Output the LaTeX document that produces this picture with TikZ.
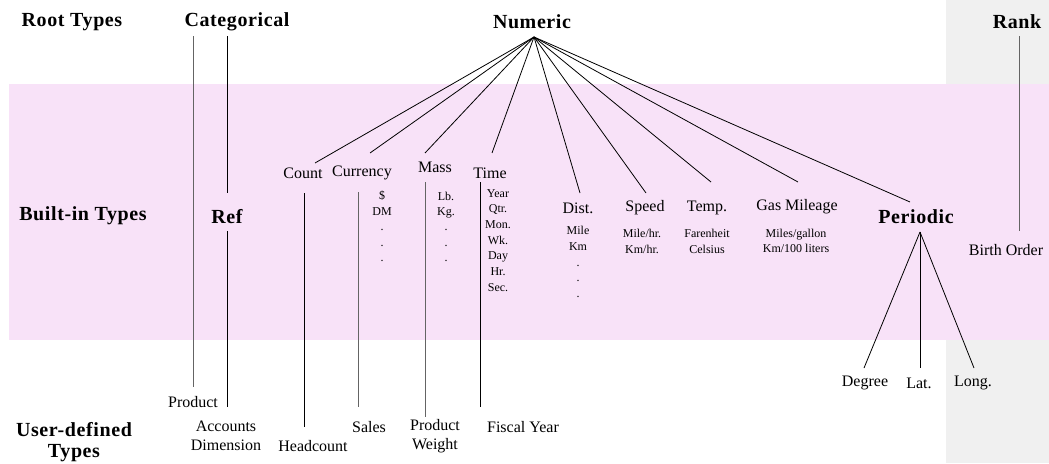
\documentclass[tikz,border=0pt]{standalone}
\usepackage{fontspec}
\setmainfont{LiberationSerif}[Extension=.ttf, UprightFont=*-Regular, BoldFont=*-Bold, ItalicFont=*-Italic, BoldItalicFont=*-BoldItalic]
\definecolor{bandpink}{RGB}{248,226,248}
\definecolor{rankgray}{RGB}{240,240,240}
\definecolor{linegray}{RGB}{100,100,100}

\begin{document}
\begin{tikzpicture}[x=1pt,y=-1pt,
  rootlbl/.style={font=\fontsize{20}{21}\selectfont\bfseries\addfontfeature{LetterSpace=3}, inner sep=0pt, align=center},
  typelbl/.style={font=\fontsize{16}{19}\selectfont, inner sep=0pt, align=center},
  unitlbl/.style={font=\fontsize{12}{14}\selectfont, inner sep=0pt, anchor=base},
  link/.style={draw=black, line width=0.8pt},
  glink/.style={draw=linegray, line width=1pt}]

\useasboundingbox (0,0) rectangle (1049,463);

% background bands
\fill[rankgray] (946,0) rectangle (1049,463);
\fill[bandpink] (9,84) rectangle (1049,340);

% row headings
\node[rootlbl] (hroot) at (72,22) {Root Types};
\node[rootlbl] (hbuilt) at (83,216) {Built-in Types};
\node[rootlbl] (huser) at (74,442) {User-defined\\Types};

% root types
\node[rootlbl] (categorical) at (237,22) {Categorical};
\node[rootlbl] (numeric) at (532,22) {Numeric};
\node[rootlbl] (rank) at (1017,22) {Rank};

% built-in types
\node[rootlbl] (ref) at (227,217) {Ref};
\node[typelbl] (count) at (303,173) {Count};
\node[typelbl] (currency) at (362,173) {Currency};
\node[typelbl] (mass) at (435,167) {Mass};
\node[typelbl] (time) at (490,173) {Time};
\node[typelbl] (dist) at (578,208) {Dist.};
\node[typelbl] (speed) at (645,208) {Speed};
\node[typelbl] (temp) at (707,208) {Temp.};
\node[typelbl] (gas) at (797,207) {Gas Mileage};
\node[rootlbl] (periodic) at (916,217) {Periodic};
\node[typelbl] (birth) at (1006,250) {Birth Order};

% units under the built-in types
\node[unitlbl] (cu1) at (382,199) {\$};
\node[unitlbl] (cu2) at (382,215) {DM};
\node[unitlbl] (cu3) at (382,230) {.};
\node[unitlbl] (cu4) at (382,246) {.};
\node[unitlbl] (cu5) at (382,261) {.};

\node[unitlbl] (ma1) at (446,200) {Lb.};
\node[unitlbl] (ma2) at (446,215) {Kg.};
\node[unitlbl] (ma3) at (446,230) {.};
\node[unitlbl] (ma4) at (446,246) {.};
\node[unitlbl] (ma5) at (446,261) {.};

\node[unitlbl] (ti1) at (498,197) {Year};
\node[unitlbl] (ti2) at (498,212.7) {Qtr.};
\node[unitlbl] (ti3) at (498,228.4) {Mon.};
\node[unitlbl] (ti4) at (498,244) {Wk.};
\node[unitlbl] (ti5) at (498,259.8) {Day};
\node[unitlbl] (ti6) at (498,275.5) {Hr.};
\node[unitlbl] (ti7) at (498,291) {Sec.};

\node[unitlbl] (di1) at (578,234) {Mile};
\node[unitlbl] (di2) at (578,250) {Km};
\node[unitlbl] (di3) at (578,266) {.};
\node[unitlbl] (di4) at (578,281) {.};
\node[unitlbl] (di5) at (578,297) {.};

\node[unitlbl] (sp1) at (642,237) {Mile/hr.};
\node[unitlbl] (sp2) at (642,253) {Km/hr.};

\node[unitlbl] (te1) at (707,237) {Farenheit};
\node[unitlbl] (te2) at (707,253) {Celsius};

\node[unitlbl] (ga1) at (796,237) {Miles/gallon};
\node[unitlbl] (ga2) at (796,252) {Km/100 liters};

% user-defined types
\node[typelbl] (product) at (193,402) {Product};
\node[typelbl] (accounts) at (226,436) {Accounts\\Dimension};
\node[typelbl] (headcount) at (313,446) {Headcount};
\node[typelbl] (sales) at (369,427) {Sales};
\node[typelbl] (pweight) at (435,436) {Product\\Weight};
\node[typelbl] (fiscal) at (523,427) {Fiscal Year};
\node[typelbl] (degree) at (865,383) {Degree};
\node[typelbl] (lat) at (919,383) {Lat.};
\node[typelbl] (long) at (973,383) {Long.};

% connector end points
\coordinate (cat-a) at (193,36);
\coordinate (cat-b) at (227,36);
\coordinate (ref-top) at (227,193);
\coordinate (ref-bot) at (227,231);
\coordinate (product-top) at (193,387);
\coordinate (accounts-top) at (227,407);
\coordinate (count-bot) at (304,193);
\coordinate (headcount-top) at (304,427);
\coordinate (currency-bot) at (358,192);
\coordinate (sales-top) at (358,407);
\coordinate (mass-bot) at (425,182);
\coordinate (pweight-top) at (425,417);
\coordinate (time-bot) at (480,182);
\coordinate (fiscal-top) at (480,407);
\coordinate (rank-bot) at (1019,36);
\coordinate (birth-top) at (1019,231);

\coordinate (num-apex) at (534,37);
\coordinate (count-in) at (315,163);
\coordinate (currency-in) at (370,153);
\coordinate (mass-in) at (425,153);
\coordinate (time-in) at (492,153);
\coordinate (dist-in) at (580,193);
\coordinate (speed-in) at (646,193);
\coordinate (temp-in) at (711,182);
\coordinate (gas-in) at (798,182);
\coordinate (periodic-in) at (910,202);

\coordinate (per-apex) at (920,232);
\coordinate (degree-in) at (864,368);
\coordinate (lat-in) at (920,368);
\coordinate (long-in) at (974,368);

% categorical branch
\draw[glink] (cat-a) -- (product-top);
\draw[link] (cat-b) -- (ref-top);
\draw[link] (ref-bot) -- (accounts-top);

% numeric fan
\foreach \t in {count,currency,mass,time,dist,speed,temp,gas,periodic}
  \draw[link] (num-apex) -- (\t-in);

% built-in to user-defined
\draw[link] (count-bot) -- (headcount-top);
\draw[glink] (currency-bot) -- (sales-top);
\draw[glink] (mass-bot) -- (pweight-top);
\draw[link] (time-bot) -- (fiscal-top);

% periodic fan
\foreach \t in {degree,lat,long}
  \draw[link] (per-apex) -- (\t-in);

% rank branch
\draw[glink] (rank-bot) -- (birth-top);

\end{tikzpicture}
\end{document}
